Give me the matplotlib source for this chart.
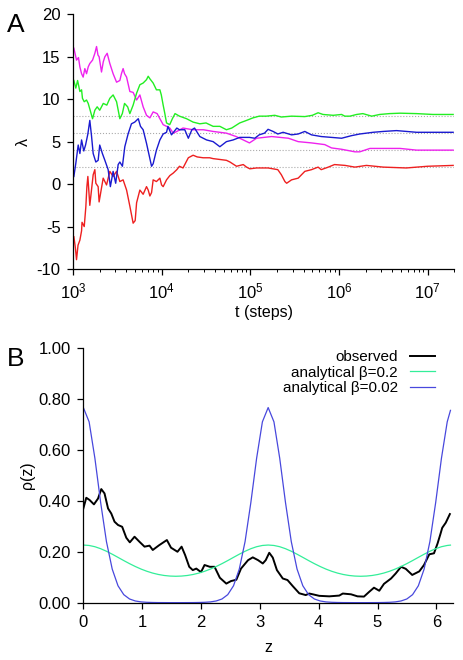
import numpy as np
import matplotlib.pyplot as plt
from matplotlib.ticker import FormatStrFormatter, NullFormatter, LogLocator

plt.rcParams['font.family'] = ['Liberation Sans', 'DejaVu Sans']
plt.rcParams['mathtext.fontset'] = 'custom'
plt.rcParams['mathtext.rm'] = 'Liberation Sans'
plt.rcParams['axes.unicode_minus'] = False

# panel A: running estimates of lambda, x given as log10(t)
red_logt = [3.008, 3.025, 3.038, 3.055, 3.076, 3.095, 3.10, 3.125, 3.143, 3.155, 3.166, 3.188,
            3.226, 3.245, 3.256, 3.282, 3.293, 3.339, 3.377, 3.414, 3.451, 3.49, 3.527, 3.564,
            3.603, 3.64, 3.677, 3.70, 3.716, 3.753, 3.79, 3.828, 3.847, 3.866, 3.885, 3.903,
            3.94, 3.979, 3.998, 4.016, 4.054, 4.091, 4.13, 4.17, 4.20, 4.24, 4.30, 4.354, 4.40,
            4.467, 4.54, 4.58, 4.656, 4.73, 4.77, 4.844, 4.92, 4.957, 4.994, 5.07, 5.106, 5.20,
            5.31, 5.35, 5.39, 5.41, 5.465, 5.54, 5.615, 5.69, 5.765, 5.80, 5.88, 5.95, 6.07,
            6.18, 6.31, 6.50, 6.76, 7.00, 7.289]
red_lam = [-6.2, -7.5, -8.9, -7.2, -6.6, -5.5, -4.5, -5.0, -2.7, -0.3, 0.9, -2.5,
           1.1, 1.7, 0.1, -0.3, -2.1, 0.7, -0.1, 1.5, 0.9, 1.5, 0.3, 0.5,
           -0.7, -2.6, -4.6, -4.3, -2.2, -0.7, -1.2, -0.3, -0.7, -1.4, -1.0, 0.5,
           0.3, 0.7, -0.1, -0.3, 0.5, 1.0, 1.3, 1.7, 2.1, 1.9, 3.1, 3.4, 3.2,
           3.1, 3.1, 3.0, 2.9, 2.8, 2.6, 2.1, 2.3, 2.0, 1.8, 1.9, 1.9, 1.9,
           1.7, 1.1, 0.3, 0.1, 0.5, 0.7, 1.5, 1.7, 2.0, 1.7, 2.0, 2.3, 2.2,
           2.0, 2.2, 2.0, 1.9, 2.1, 2.2]

green_logt = [3.008, 3.030, 3.050, 3.076, 3.095, 3.105, 3.125, 3.151, 3.170, 3.219, 3.245, 3.271,
              3.300, 3.340, 3.380, 3.414, 3.451, 3.490, 3.527, 3.555, 3.580, 3.615, 3.640, 3.677,
              3.716, 3.753, 3.790, 3.828, 3.847, 3.866, 3.903, 3.940, 3.979, 3.995, 4.016, 4.035,
              4.054, 4.090, 4.120, 4.150, 4.200, 4.280, 4.354, 4.430, 4.500, 4.580, 4.656, 4.730,
              4.790, 4.880, 4.957, 5.030, 5.100, 5.180, 5.276, 5.350, 5.465, 5.615, 5.700, 5.765,
              5.820, 5.935, 6.030, 6.066, 6.124, 6.200, 6.270, 6.370, 6.460, 6.570, 6.690, 6.876,
              7.060, 7.289]
green_lam = [12.2, 11.3, 12.2, 10.9, 11.1, 10.1, 9.7, 9.9, 9.5, 7.7, 8.7, 9.1,
             8.7, 9.5, 9.3, 10.1, 10.5, 9.7, 7.7, 8.3, 9.5, 9.1, 8.3, 9.3,
             10.7, 11.7, 11.9, 12.3, 12.7, 12.4, 11.9, 11.1, 11.1, 10.5, 9.3, 8.3,
             7.2, 7.0, 7.7, 8.3, 8.0, 7.7, 7.3, 7.1, 7.2, 6.8, 6.8, 6.4,
             6.6, 7.2, 7.5, 7.8, 8.0, 8.0, 8.1, 7.9, 8.0, 7.95, 8.1, 8.4,
             8.2, 8.1, 8.2, 8.0, 8.0, 8.2, 8.3, 8.0, 8.2, 8.3, 8.35, 8.3,
             8.2, 8.2]

blue_logt = [3.008, 3.030, 3.057, 3.076, 3.095, 3.12, 3.14, 3.166, 3.188, 3.207, 3.226, 3.256,
             3.282, 3.30, 3.33, 3.358, 3.395, 3.42, 3.451, 3.48, 3.508, 3.527, 3.556, 3.583,
             3.62, 3.658, 3.695, 3.735, 3.76, 3.79, 3.828, 3.866, 3.885, 3.903, 3.94, 3.979,
             4.016, 4.054, 4.07, 4.11, 4.17, 4.20, 4.26, 4.30, 4.34, 4.37, 4.43, 4.506,
             4.58, 4.656, 4.73, 4.806, 4.88, 4.99, 5.05, 5.10, 5.16, 5.20, 5.257, 5.31,
             5.37, 5.465, 5.54, 5.615, 5.69, 5.80, 5.916, 6.03, 6.14, 6.235, 6.386, 6.50,
             6.65, 6.876, 7.06, 7.289]
blue_lam = [0.9, 2.45, 4.6, 3.6, 5.2, 3.9, 4.6, 5.9, 7.5, 5.7, 3.6, 2.6,
            2.8, 4.6, 3.6, 2.8, 1.7, -0.3, 1.5, 0.1, 2.3, 2.6, 2.1, 4.4,
            5.9, 7.1, 7.3, 7.7, 6.8, 6.4, 4.8, 3.0, 2.1, 2.4, 4.0, 5.2,
            5.9, 6.1, 6.8, 5.8, 6.6, 6.4, 6.4, 5.4, 6.4, 6.6, 5.6, 5.2,
            5.0, 4.4, 5.0, 5.2, 5.5, 5.5, 5.4, 5.8, 6.0, 6.45, 6.2, 5.9,
            6.1, 5.8, 5.9, 6.2, 5.8, 5.6, 5.5, 5.4, 5.7, 5.9, 6.1, 6.2,
            6.3, 6.1, 6.1, 6.1]

magenta_logt = [3.008, 3.038, 3.060, 3.076, 3.095, 3.113, 3.132, 3.151, 3.170, 3.188, 3.219, 3.245,
                3.264, 3.280, 3.293, 3.320, 3.340, 3.358, 3.384, 3.414, 3.451, 3.490, 3.527, 3.545,
                3.564, 3.580, 3.603, 3.640, 3.677, 3.716, 3.753, 3.790, 3.828, 3.866, 3.903, 3.948,
                3.979, 4.016, 4.054, 4.091, 4.13, 4.17, 4.24, 4.35, 4.47, 4.58, 4.73, 4.84,
                4.92, 4.99, 5.07, 5.24, 5.43, 5.54, 5.69, 5.84, 5.916, 6.03, 6.18, 6.235,
                6.35, 6.50, 6.69, 6.876, 7.06, 7.289]
magenta_lam = [16.0, 14.6, 14.9, 13.8, 13.0, 12.6, 13.6, 13.0, 13.8, 14.2, 14.6, 15.4,
               16.2, 15.2, 15.0, 13.2, 14.4, 15.0, 15.4, 14.2, 13.0, 12.0, 12.2, 13.0,
               13.6, 13.0, 12.6, 10.9, 10.8, 9.9, 10.5, 9.1, 8.1, 7.8, 8.5, 8.3,
               7.7, 7.0, 6.8, 6.6, 6.0, 6.2, 6.6, 6.4, 6.4, 6.2, 6.0, 5.6,
               5.2, 4.85, 5.4, 5.6, 5.4, 5.0, 4.85, 4.65, 4.26, 4.1, 3.8, 3.8,
               4.2, 4.2, 4.2, 4.0, 4.0, 4.0]

true_lam = [2, 4, 6, 8]

# panel B: density along z
obs_z = [0.00, 0.05, 0.107, 0.18, 0.25, 0.305, 0.36, 0.42, 0.475, 0.53, 0.59, 0.66, 0.73, 0.79,
         0.87, 0.955, 1.04, 1.125, 1.18, 1.29, 1.42, 1.49, 1.60, 1.67, 1.73, 1.80, 1.86, 1.92,
         2.00, 2.06, 2.15, 2.23, 2.32, 2.43, 2.51, 2.60, 2.68, 2.80, 2.88, 2.97, 3.05, 3.10,
         3.16, 3.22, 3.29, 3.39, 3.47, 3.56, 3.67, 3.78, 3.84, 3.90, 4.01, 4.18, 4.35, 4.41,
         4.55, 4.66, 4.77, 4.86, 4.94, 5.03, 5.11, 5.23, 5.31, 5.40, 5.48, 5.59, 5.71, 5.79,
         5.88, 5.96, 6.02, 6.07, 6.10, 6.16, 6.23]
obs_rho = [0.370, 0.412, 0.403, 0.386, 0.409, 0.446, 0.429, 0.370, 0.350, 0.318, 0.305, 0.298, 0.255, 0.237,
           0.259, 0.239, 0.220, 0.224, 0.207, 0.226, 0.246, 0.216, 0.200, 0.220, 0.187, 0.141, 0.128, 0.134,
           0.120, 0.148, 0.141, 0.141, 0.098, 0.075, 0.085, 0.090, 0.134, 0.167, 0.178, 0.167, 0.154, 0.167,
           0.196, 0.177, 0.128, 0.095, 0.089, 0.065, 0.037, 0.030, 0.036, 0.033, 0.027, 0.025, 0.028, 0.036,
           0.033, 0.025, 0.024, 0.043, 0.059, 0.047, 0.074, 0.095, 0.115, 0.141, 0.133, 0.109, 0.123, 0.148,
           0.190, 0.194, 0.232, 0.270, 0.294, 0.314, 0.348]

ana_z = list(np.arange(64) * np.pi / 32) + [6.24]
ana_b02 = [0.2264, 0.2247, 0.2198, 0.2120, 0.2020, 0.1904, 0.1780, 0.1654, 0.1533, 0.1421, 0.1320,
           0.1234, 0.1163, 0.1108, 0.1069, 0.1046, 0.1038, 0.1046, 0.1069, 0.1108, 0.1163, 0.1234,
           0.1320, 0.1421, 0.1533, 0.1654, 0.1780, 0.1904, 0.2020, 0.2120, 0.2198, 0.2247, 0.2264,
           0.2247, 0.2198, 0.2120, 0.2020, 0.1904, 0.1780, 0.1654, 0.1533, 0.1421, 0.1320, 0.1234,
           0.1163, 0.1108, 0.1069, 0.1046, 0.1038, 0.1046, 0.1069, 0.1108, 0.1163, 0.1234, 0.1320,
           0.1421, 0.1533, 0.1654, 0.1780, 0.1904, 0.2020, 0.2120, 0.2198, 0.2247, 0.2261]
ana_b002 = [0.766, 0.710, 0.567, 0.393, 0.240, 0.132, 0.0665, 0.0316, 0.0146, 0.0068, 0.0032,
            0.0016, 0.0009, 0.0005, 0.0004, 0.0003, 0.0003, 0.0003, 0.0004, 0.0005, 0.0009, 0.0016,
            0.0032, 0.0068, 0.0146, 0.0316, 0.0665, 0.132, 0.240, 0.393, 0.567, 0.710, 0.766,
            0.710, 0.567, 0.393, 0.240, 0.132, 0.0665, 0.0316, 0.0146, 0.0068, 0.0032, 0.0016,
            0.0009, 0.0005, 0.0004, 0.0003, 0.0003, 0.0003, 0.0004, 0.0005, 0.0009, 0.0016, 0.0032,
            0.0068, 0.0146, 0.0316, 0.0665, 0.132, 0.240, 0.393, 0.567, 0.710, 0.755]

fig = plt.figure(figsize=(4.63, 6.6), dpi=100)
axA = fig.add_axes([0.158, 0.5924, 0.823, 0.386])
axB = fig.add_axes([0.18, 0.0868, 0.798, 0.386])

for ax in (axA, axB):
    ax.spines['top'].set_visible(False)
    ax.spines['right'].set_visible(False)
    ax.spines['left'].set_linewidth(0.9)
    ax.spines['bottom'].set_linewidth(0.9)
    ax.tick_params(direction='out', length=4, width=0.9, labelsize=12, pad=5)
    ax.tick_params(which='minor', direction='out', length=2.5, width=0.7)

# --- A ---
for lv in true_lam:
    axA.axhline(lv, color='#aaaaaa', ls=':', lw=0.8, zorder=1)
axA.plot(10**np.array(red_logt), red_lam, color='#ee2020', lw=1.0)
axA.plot(10**np.array(magenta_logt), magenta_lam, color='#ee22ee', lw=1.0)
axA.plot(10**np.array(green_logt), green_lam, color='#22ee22', lw=1.0)
axA.plot(10**np.array(blue_logt), blue_lam, color='#1a1ad0', lw=1.0)
axA.set_xscale('log')
axA.set_xlim(1e3, 2e7)
axA.set_ylim(-10, 20)
axA.set_yticks([-10, -5, 0, 5, 10, 15, 20])
axA.xaxis.set_major_locator(LogLocator(base=10))
axA.xaxis.set_minor_formatter(NullFormatter())
axA.set_xlabel('t (steps)', fontsize=11.5)
axA.set_ylabel('λ', fontsize=11.5)
axA.xaxis.set_label_coords(0.5, -0.1725)
axA.xaxis.label.set_va('center')
axA.yaxis.set_label_coords(-0.131, 0.5)
axA.yaxis.label.set_va('center')

# --- B ---
axB.plot(obs_z, obs_rho, color='black', lw=1.4, label='observed')
axB.plot(ana_z, ana_b02, color='#33ee99', lw=0.9, label='analytical β=0.2')
axB.plot(ana_z, ana_b002, color='#4848dd', lw=0.9, label='analytical β=0.02')
axB.set_xlim(0, 6.28)
axB.set_ylim(0, 1.0)
axB.set_xticks([0, 1, 2, 3, 4, 5, 6])
axB.set_yticks([0, 0.2, 0.4, 0.6, 0.8, 1.0])
axB.yaxis.set_major_formatter(FormatStrFormatter('%.2f'))
axB.set_xlabel('z', fontsize=11.5)
axB.set_ylabel('ρ(z)', fontsize=11.5)
axB.xaxis.set_label_coords(0.5, -0.174)
axB.xaxis.label.set_va('center')
axB.yaxis.set_label_coords(-0.151, 0.5)
axB.yaxis.label.set_va('center')
axB.legend(loc='upper right', bbox_to_anchor=(0.951, 0.99), markerfirst=False, frameon=False,
           handlelength=1.6, handletextpad=0.8, labelspacing=0.08, borderaxespad=0,
           borderpad=0, fontsize=11)

fig.text(0.015, 0.98, 'A', fontsize=19, va='top', ha='left')
fig.text(0.015, 0.4747, 'B', fontsize=19, va='top', ha='left')

fig.savefig('out.png', dpi=100)
